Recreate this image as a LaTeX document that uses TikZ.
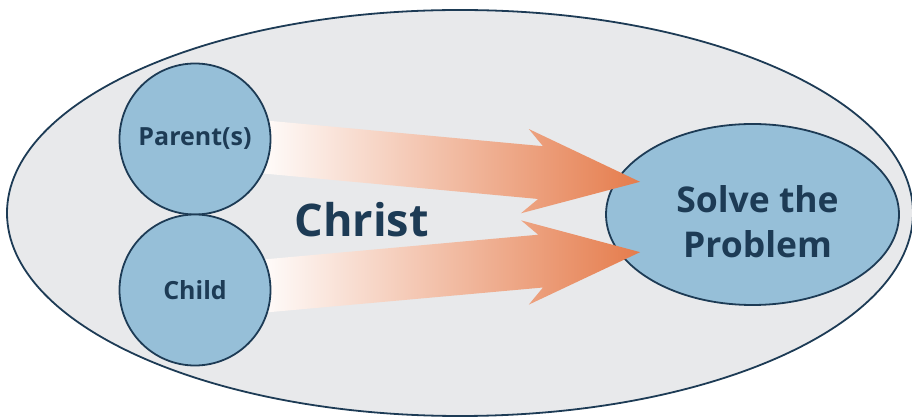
\documentclass[tikz,border=0pt]{standalone}
\usepackage{fontspec}
\setmainfont{Open Sans}
\usetikzlibrary{shapes.geometric}
\definecolor{slnavy}{HTML}{1D3B55}
\definecolor{slgray}{HTML}{E8E9EB}
\definecolor{slblue}{HTML}{96BFD8}
\definecolor{slorange}{HTML}{E57C4C}
\pgfdeclarelayer{back}
\pgfdeclarelayer{mid}
\pgfsetlayers{back,mid,main}

\begin{document}
\begin{tikzpicture}[x=1pt, y=1pt,
    field/.style={
      ellipse, minimum width=906pt, minimum height=406pt,
      fill=slgray, draw=slnavy, line width=1.8pt,
    },
    bubble/.style={
      circle, minimum size=151pt, inner sep=0pt,
      fill=slblue, draw=slnavy, line width=1.8pt,
      text=slnavy, font=\bfseries\fontsize{25}{30}\selectfont,
    },
    goal/.style={
      ellipse, minimum width=293pt, minimum height=181pt,
      fill=slblue, draw=slnavy, line width=1.8pt,
    },
    goaltxt/.style={align=center, text=slnavy, font=\bfseries\fontsize{35.5}{45}\selectfont},
    bigtxt/.style={text=slnavy, font=\bfseries\fontsize{45}{50}\selectfont, anchor=base},
    fatarrow/.style={left color=white, right color=slorange},
  ]
  \useasboundingbox (0,0) rectangle (912,417);

  % ===== field and goal =====
  \begin{pgfonlayer}{back}
    \node[field] (field) at (460,204) {};
    \node[goal] (goal) at (752.5,202.5) {};
  \end{pgfonlayer}
  \node[goaltxt] (goaltext) at ([shift={(5pt,-7pt)}]goal.center) {Solve the\\Problem};

  % ===== the two circles =====
  \node[bubble] (parent) at (195,278) {Parent(s)};
  \node[bubble] (child)  at (195,127) {Child};
  \node[bigtxt] (christ) at (361.5,180) {Christ};

  % ===== arrows (start/offset/angle) =====
  \begin{pgfonlayer}{mid}
    \foreach \src/\dy/\ang in {parent/-8.5/-5.3, child/4.5/5.15} {
      \begin{scope}[shift={([shift={(75,\dy)}]\src.center)}, rotate=\ang]
        \shade[fatarrow] (-15,26.5) -- (271.7,26.5) -- (256,42.3) -- (371.6,0)
          -- (256,-42.3) -- (271.7,-26.5) -- (-15,-26.5) -- cycle;
      \end{scope}
    }
  \end{pgfonlayer}
\end{tikzpicture}
\end{document}
